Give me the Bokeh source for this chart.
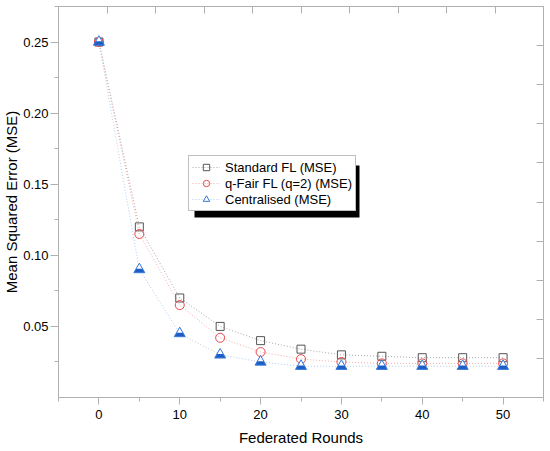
import numpy as np
from bokeh.plotting import figure
from bokeh.models import (Range1d, LinearAxis, FixedTicker, Legend, LegendItem, BoxAnnotation,
                          CustomLabelingPolicy)
from bokeh.embed import file_html
from bokeh.resources import INLINE

# ---- data ----
rounds = [0, 5, 10, 15, 20, 25, 30, 35, 40, 45, 50]
standard_fl = [0.250, 0.120, 0.070, 0.050, 0.040, 0.034, 0.030, 0.029, 0.028, 0.028, 0.028]
qfair_fl = [0.250, 0.115, 0.065, 0.042, 0.032, 0.027, 0.025, 0.024, 0.024, 0.024, 0.024]
centralised = [0.250, 0.090, 0.045, 0.030, 0.025, 0.022, 0.022, 0.022, 0.022, 0.022, 0.022]

series_labels = ["Standard FL (MSE)", "q-Fair FL (q=2) (MSE)", "Centralised (MSE)"]
x_ticks = [0, 10, 20, 30, 40, 50]
x_minor = [-5, 5, 15, 25, 35, 45, 55]
y_ticks = [0.05, 0.10, 0.15, 0.20, 0.25]
y_tick_labels = ["0.05", "0.10", "0.15", "0.20", "0.25"]
y_minor = [0.025, 0.075, 0.125, 0.175, 0.225, 0.275]
x_title = "Federated Rounds"
y_title = "Mean Squared Error (MSE)"

# ---- style ----
FONT = "Liberation Sans"
AXC = "#b0b0b0"
FW, FH = 485, 391
Y0, Y1 = 0.0, 0.275

p = figure(frame_width=FW, frame_height=FH,
           x_range=Range1d(-5, 55), y_range=Range1d(Y0, Y1),
           output_backend="svg", toolbar_location=None,
           min_border_left=0, min_border_right=0, min_border_top=6, min_border_bottom=0)
p.xgrid.visible = False
p.ygrid.visible = False
p.outline_line_color = None
p.background_fill_color = "white"
p.border_fill_color = "white"

# bottom / left axes
xa = p.xaxis[0]
ya = p.yaxis[0]
for ax in (xa, ya):
    ax.axis_line_color = AXC
    ax.major_tick_line_color = AXC
    ax.minor_tick_line_color = AXC
    ax.major_tick_in = 0
    ax.minor_tick_in = 0
    ax.major_label_text_font = FONT
    ax.major_label_text_font_size = "13px"
    ax.major_label_text_color = "black"
    ax.axis_label_text_font = FONT
    ax.axis_label_text_font_size = "15px"
    ax.axis_label_text_font_style = "normal"
    ax.axis_label_text_color = "black"

xa.ticker = FixedTicker(ticks=x_ticks, minor_ticks=x_minor)
xa.axis_label = x_title
xa.major_tick_out = 7
xa.minor_tick_out = 4
xa.major_label_standoff = 5
xa.axis_label_standoff = 7

ya.ticker = FixedTicker(ticks=y_ticks, minor_ticks=y_minor)
ya.major_label_overrides = {t: l for t, l in zip(y_ticks, y_tick_labels)}
ya.axis_label = y_title
ya.major_tick_out = 8
ya.minor_tick_out = 4
ya.major_label_standoff = 2
ya.axis_label_standoff = 0

# mirrored top / right axes (ticks only, pointing inward, no labels)
no_labels = CustomLabelingPolicy(code="""
for (const i of [...indices]) { indices.unset(i) }
return indices
""")
p.extra_x_ranges = {"top": Range1d(0, 10)}
p.extra_y_ranges = {"right": Range1d(0, 10)}
for name, place in (("top", "above"), ("right", "right")):
    kw = {"x_range_name": name} if place == "above" else {"y_range_name": name}
    ax = LinearAxis(ticker=FixedTicker(ticks=list(range(11)), minor_ticks=[]),
                    major_tick_in=7, major_tick_out=0, minor_tick_in=0, minor_tick_out=0,
                    major_label_policy=no_labels, major_label_standoff=0,
                    major_label_text_font_size="1px",
                    axis_line_color=AXC, major_tick_line_color=AXC, **kw)
    p.add_layout(ax, place)

# ---- series ----
DASH = "1 2"
l1 = p.line(rounds, standard_fl, line_color="#a8a8a8", line_width=1, line_dash=DASH)
l2 = p.line(rounds, qfair_fl, line_color="#f4acac", line_width=1, line_dash=DASH)
l3 = p.line(rounds, centralised, line_color="#b0ccee", line_width=1, line_dash=DASH)

s1 = p.scatter(rounds, standard_fl, marker="square", size=8, fill_color=None,
               line_color="#555555", line_width=1)
s2 = p.scatter(rounds, qfair_fl, marker="circle", size=9, fill_color=None,
               line_color="#e8474b", line_width=1)

# half-filled triangles: filled blue, white top part, blue outline
TRI = 11
t_fill = p.scatter(rounds, centralised, marker="triangle", size=TRI,
                   fill_color="#1c5ec6", line_color=None)
shift_px = 2.67
dy = shift_px * (Y1 - Y0) / FH
t_white = p.scatter(rounds, [v + dy for v in centralised], marker="triangle", size=6.4,
                    fill_color="white", line_color=None)
t_line = p.scatter(rounds, centralised, marker="triangle", size=TRI,
                   fill_color=None, line_color="#3a7bd8", line_width=1)

# legend shadow (screen units relative to frame)
LX, LY, LW, LH, SH = 130, 186, 165, 52, 6
shadow = BoxAnnotation(left=LX + SH, right=LX + LW + SH, bottom=LY - SH, top=LY + LH - SH,
                       left_units="screen", right_units="screen",
                       top_units="screen", bottom_units="screen",
                       fill_color="black", fill_alpha=1.0, line_color=None, level="underlay")
p.add_layout(shadow)

legend = Legend(items=[
    LegendItem(label=series_labels[0], renderers=[l1, s1]),
    LegendItem(label=series_labels[1], renderers=[l2, s2]),
    LegendItem(label=series_labels[2], renderers=[l3, t_fill, t_white, t_line]),
], location=(LX, LY))
legend.border_line_color = "#808080"
legend.border_line_width = 1
legend.background_fill_color = "white"
legend.background_fill_alpha = 1.0
legend.padding = 3
legend.spacing = 0
legend.margin = 0
legend.glyph_width = 28
legend.glyph_height = 16
legend.label_height = 16
legend.label_standoff = 5
legend.label_text_font = FONT
legend.label_text_font_size = "13px"
legend.label_text_color = "black"
p.add_layout(legend)

open("out.html", "w").write(file_html(p, INLINE))
